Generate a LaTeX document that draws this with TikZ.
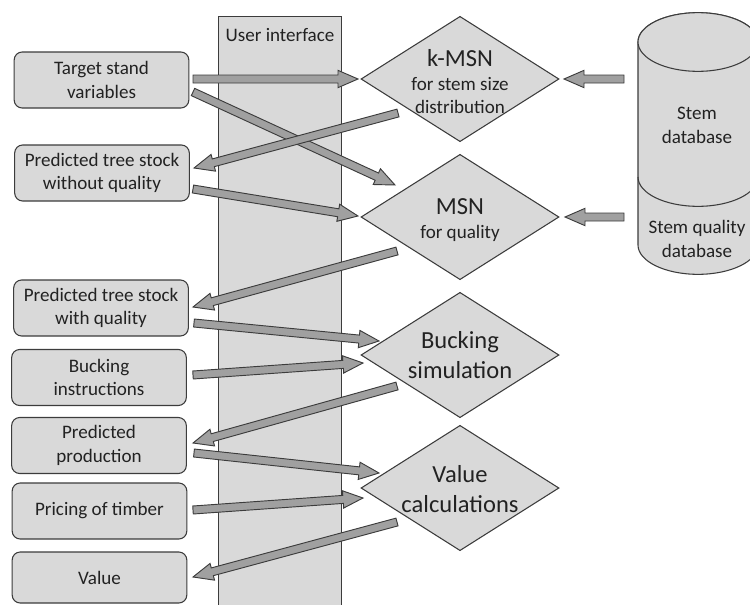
\documentclass[tikz,border=0pt]{standalone}
\usepackage{fontspec}
\setmainfont{Carlito}
\usetikzlibrary{shapes.geometric,calc}
\definecolor{boxfill}{HTML}{D9D9D9}
\definecolor{arrfill}{HTML}{A0A0A0}
\definecolor{edgec}{HTML}{3C3C3C}
\definecolor{txt}{HTML}{222222}
\newcommand\fsmall{\fontsize{14.3}{17.6}\selectfont}
\newcommand\fbig{\fontsize{18.4}{22}\selectfont}
\newcommand\blockarrow[2]{%
  \coordinate (bah) at ($(#2)!15pt!(#1)$);
  \draw[arrowbody] ($(#1)!3pt!90:(#2)$) -- ($(bah)!3pt!90:(#2)$) -- ($(bah)!6.5pt!90:(#2)$) -- (#2) -- ($(bah)!6.5pt!-90:(#2)$) -- ($(bah)!3pt!-90:(#2)$) -- ($(#1)!3pt!-90:(#2)$) -- cycle;}
\begin{document}
\begin{tikzpicture}[x=0.75pt,y=-0.75pt,
  box/.style={draw=edgec, fill=boxfill, rounded corners=6pt, line width=0.8pt, minimum width=131pt, minimum height=42pt, inner sep=0pt, align=center, font=\fsmall, text=txt},
  dia/.style={draw=edgec, fill=boxfill, diamond, line width=0.8pt, minimum width=148.5pt, minimum height=94pt, inner sep=0pt},
  dtext/.style={align=center, text=txt, font=\fsmall},
  arrowbody/.style={draw=edgec, fill=arrfill, line width=0.7pt, line join=miter},
  cyl/.style={draw=edgec, fill=boxfill, line width=0.8pt}]
\useasboundingbox (0,0) rectangle (750,604);
\clip (0,0) rectangle (750,604);
% user interface panel
\node[draw=edgec, fill=boxfill, line width=0.8pt, minimum width=92.25pt, minimum height=460pt, inner sep=0pt, anchor=north west] (ui) at (218,16) {};
\node[font=\fsmall, text=txt] (uilab) at (280,35) {User interface};
% boxes
\node[box] (tsv) at (101.5,80) {Target stand\\variables};
\node[box] (pwo) at (102,173) {Predicted tree stock\\without quality};
\node[box] (pwq) at (101,308) {Predicted tree stock\\with quality};
\node[box] (bi) at (99,377.5) {Bucking\\instructions};
\node[box] (pp) at (99,445.5) {Predicted\\production};
\node[box] (pt) at (99.5,511) {Pricing of timber};
\node[box, minimum height=38.25pt] (val) at (99.5,577.5) {Value};
% diamonds
\node[dia] (kmsn) at (460,79) {};
\node[dtext] (kmsnt) at (460,82) {{\fbig k-MSN}\\for stem size\\distribution};
\node[dia] (msn) at (460,217) {};
\node[dtext] (msnt) at (460,220) {{\fbig MSN}\\for quality};
\node[dia] (buck) at (460,355) {};
\node[dtext, font=\fbig] (buckt) at (460,355) {Bucking\\simulation};
\node[dia] (valc) at (460,488) {};
\node[dtext, font=\fbig] (valct) at (460,489) {Value\\calculations};
% cylinder database
\draw[cyl] (638,42) -- (638,245) arc[start angle=180,end angle=360,x radius=45pt,y radius=22pt] -- (758,42) arc[start angle=0,end angle=180,x radius=45pt,y radius=22pt] -- cycle;
\draw[cyl] (698,42) ellipse [x radius=45pt, y radius=22pt];
\draw[draw=edgec, line width=0.8pt] (638,177) arc[start angle=180,end angle=360,x radius=45pt,y radius=22pt];
\node[dtext] (db1) at (697,125.5) {Stem\\database};
\node[dtext] (db2) at (697,239) {Stem quality\\database};
% arrow end points
\coordinate (a1s) at (193,79);  \coordinate (a1e) at (358,79);
\coordinate (a2s) at (193,92);  \coordinate (a2e) at (395,185);
\coordinate (a3s) at (398,113); \coordinate (a3e) at (194,168);
\coordinate (a4s) at (193,189); \coordinate (a4e) at (358,216);
\coordinate (a5s) at (397,251); \coordinate (a5e) at (193,307);
\coordinate (a6s) at (194,323); \coordinate (a6e) at (379,341);
\coordinate (a7s) at (193,375); \coordinate (a7e) at (363,363);
\coordinate (a8s) at (397,386); \coordinate (a8e) at (193,443);
\coordinate (a9s) at (194,453); \coordinate (a9e) at (379,473);
\coordinate (a10s) at (193,510); \coordinate (a10e) at (363,498);
\coordinate (a11s) at (397,522); \coordinate (a11e) at (193,577);
\coordinate (a12s) at (624,79); \coordinate (a12e) at (564,79);
\coordinate (a13s) at (624,217); \coordinate (a13e) at (565,217);
\blockarrow{a1s}{a1e}
\blockarrow{a2s}{a2e}
\blockarrow{a3s}{a3e}
\blockarrow{a4s}{a4e}
\blockarrow{a5s}{a5e}
\blockarrow{a6s}{a6e}
\blockarrow{a7s}{a7e}
\blockarrow{a8s}{a8e}
\blockarrow{a9s}{a9e}
\blockarrow{a10s}{a10e}
\blockarrow{a11s}{a11e}
\blockarrow{a12s}{a12e}
\blockarrow{a13s}{a13e}
\end{tikzpicture}
\end{document}
